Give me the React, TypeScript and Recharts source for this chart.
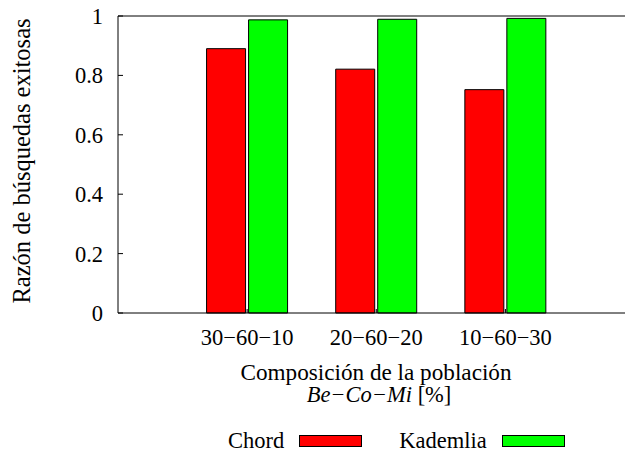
import React from 'react';
import { BarChart, Bar, XAxis, YAxis, Legend, ReferenceLine } from 'recharts';

// composition of the population (Be-Co-Mi, %)
const categories = ['30−60−10', '20−60−20', '10−60−30'];
const positions = [1, 2, 3];
const chord = [0.89, 0.821, 0.752];
const kademlia = [0.987, 0.989, 0.992];
const yTicks = [0, 0.2, 0.4, 0.6, 0.8, 1];

const data = positions.map((x, i) => ({ x, name: categories[i], chord: chord[i], kademlia: kademlia[i] }));

const FONT = 'Liberation Serif';
const FS = 22.5;

const YTitle = () => (
  <text
    transform="translate(30,161) rotate(-90)"
    textAnchor="middle"
    fontFamily={FONT}
    fontSize={24.5}
    fill="#000"
    style={{ fontFamily: FONT }}
  >
    Razón de búsquedas exitosas
  </text>
);

const XTitle = () => (
  <g fontFamily={FONT} fontSize={FS} fill="#000" style={{ fontFamily: FONT }}>
    <text x={376} y={380} textAnchor="middle" fontSize={23.2}>Composición de la población</text>
    <text x={379} y={402} textAnchor="middle">
      <tspan fontStyle="italic">Be−Co−Mi</tspan> [%]
    </text>
  </g>
);

const legendItems = [
  { label: 'Chord', color: '#ff0000' },
  { label: 'Kademlia', color: '#00ff00' },
];

const KeyBox = () => (
  <div style={{ display: 'flex', alignItems: 'center', fontFamily: FONT, fontSize: FS, lineHeight: '26px', color: '#000' }}>
    {legendItems.map((it, i) => (
      <React.Fragment key={it.label}>
        <span style={{ marginLeft: i === 0 ? 0 : 37 }}>{it.label}</span>
        <span
          style={{
            display: 'inline-block',
            marginLeft: 15,
            width: 61,
            height: 10,
            background: it.color,
            border: '1px solid #000',
          }}
        />
      </React.Fragment>
    ))}
  </div>
);

const tickStyle = { fill: '#000', fontFamily: FONT, fontSize: FS, style: { fontFamily: FONT } };

export default function App() {
  return (
    <div style={{ position: 'absolute', left: 0, top: 0, width: 625, height: 453, background: '#fff', fontFamily: FONT }}>
      <BarChart
        width={625}
        height={453}
        data={data}
        margin={{ top: 16, right: 0, left: 0, bottom: 100 }}
        barGap={3}
        style={{ fontFamily: FONT }}
      >
        <XAxis
          dataKey="x"
          type="number"
          domain={[0, 3.926]}
          ticks={positions}
          tickFormatter={(v) => categories[positions.indexOf(v)] ?? ''}
          allowDataOverflow
          height={40}
          stroke="#000"
          tickSize={-4}
          tickMargin={20.4}
          tick={tickStyle}
          label={<XTitle />}
        />
        <YAxis
          type="number"
          domain={[0, 1]}
          ticks={yTicks}
          width={118}
          stroke="#000"
          tickSize={-5}
          tickMargin={20}
          tick={tickStyle}
          label={<YTitle />}
        />
        <ReferenceLine y={1} stroke="#000" strokeWidth={1} />
        <Legend
          layout="horizontal"
          verticalAlign="middle"
          align="center"
          content={<KeyBox />}
          wrapperStyle={{ position: 'absolute', left: 228, top: 428, width: 'auto', height: 26 }}
        />
        <Bar dataKey="chord" name="Chord" fill="#ff0000" stroke="#000" strokeWidth={1} barSize={39} isAnimationActive={false} />
        <Bar dataKey="kademlia" name="Kademlia" fill="#00ff00" stroke="#000" strokeWidth={1} barSize={39} isAnimationActive={false} />
      </BarChart>
    </div>
  );
}
